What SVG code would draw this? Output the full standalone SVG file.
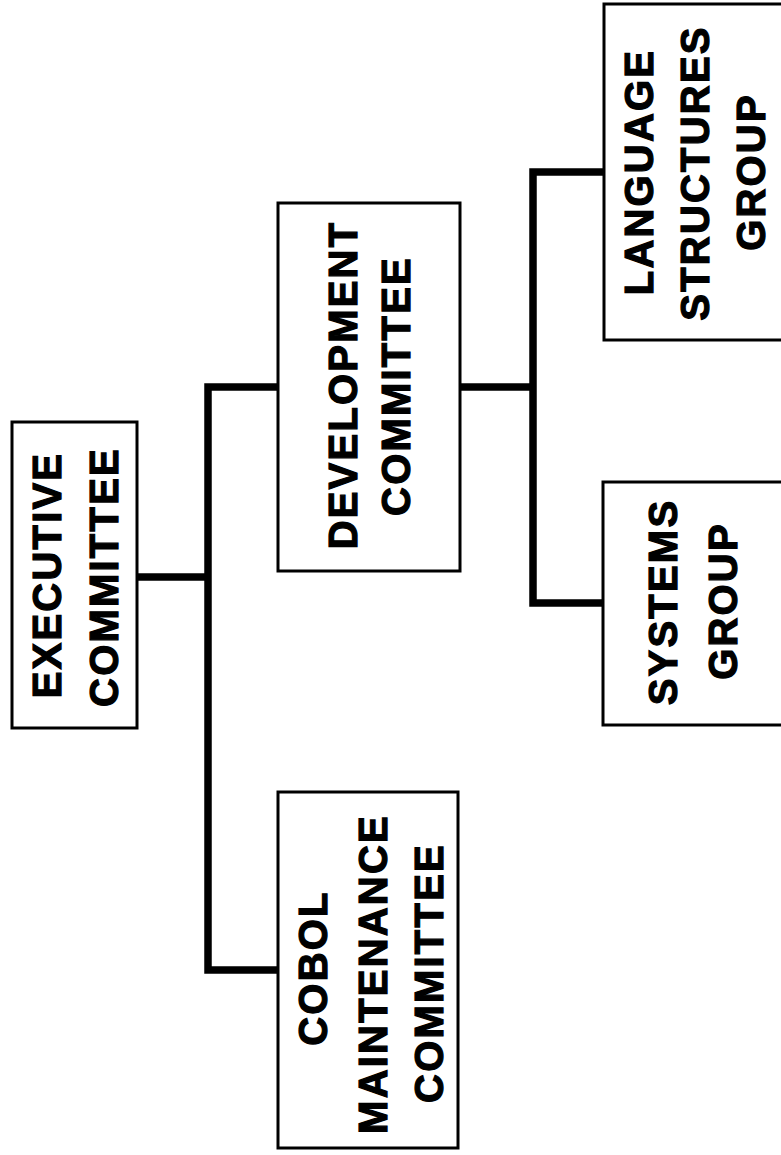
<svg xmlns="http://www.w3.org/2000/svg" width="781" height="1155" viewBox="0 0 781 1155">
<style>
.box{fill:#fff;stroke:#000;stroke-width:3}
.lbl{font-family:"Liberation Sans",Arial,sans-serif;font-weight:bold;font-size:40px;letter-spacing:2.2px;fill:#000;stroke:#000;stroke-width:1.2;text-anchor:middle}
.conn{fill:none;stroke:#000;stroke-width:7.5;stroke-linejoin:miter;stroke-linecap:butt}
</style>
<rect width="781" height="1155" fill="#fff"/>
<g id="connectors">
<path class="conn" d="M137,577 H208"/>
<path class="conn" d="M278,387 H208 V970 H278"/>
<path class="conn" d="M460,387 H533"/>
<path class="conn" d="M604,172 H533 V603 H604"/>
</g>
<g id="executive">
<rect class="box" x="12" y="422" width="125" height="306"/>
<text class="lbl" transform="translate(61,575) rotate(-90)">EXECUTIVE</text>
<text class="lbl" transform="translate(118,577) rotate(-90)">COMMITTEE</text>
</g>
<g id="development">
<rect class="box" x="278" y="203" width="182" height="368"/>
<text class="lbl" transform="translate(357,385) rotate(-90)">DEVELOPMENT</text>
<text class="lbl" transform="translate(410,386) rotate(-90)">COMMITTEE</text>
</g>
<g id="cobol">
<rect class="box" x="278" y="792" width="180" height="356"/>
<text class="lbl" transform="translate(327,968) rotate(-90)">COBOL</text>
<text class="lbl" transform="translate(387,974) rotate(-90)">MAINTENANCE</text>
<text class="lbl" transform="translate(443,973) rotate(-90)">COMMITTEE</text>
</g>
<g id="language">
<rect class="box" x="604" y="4" width="200" height="336"/>
<text class="lbl" transform="translate(653,172) rotate(-90)">LANGUAGE</text>
<text class="lbl" transform="translate(709,173) rotate(-90)">STRUCTURES</text>
<text class="lbl" transform="translate(765,172) rotate(-90)">GROUP</text>
</g>
<g id="systems">
<rect class="box" x="603" y="482" width="200" height="243"/>
<text class="lbl" transform="translate(677,602) rotate(-90)">SYSTEMS</text>
<text class="lbl" transform="translate(737,601) rotate(-90)">GROUP</text>
</g>
</svg>
